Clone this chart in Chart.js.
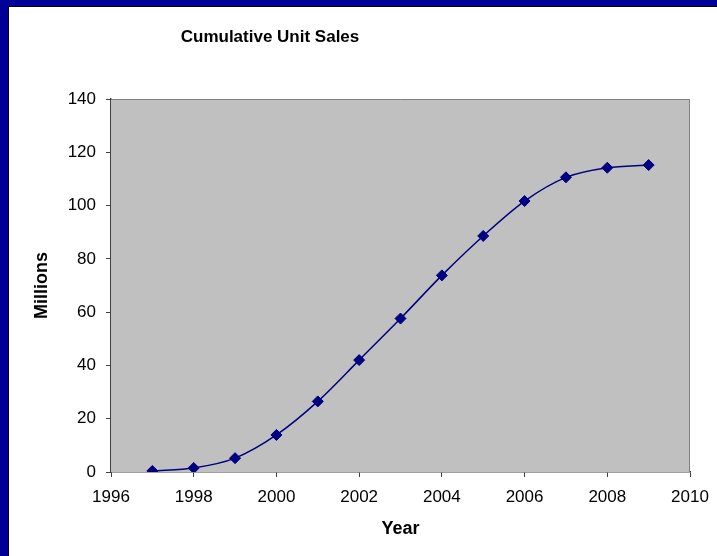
<!DOCTYPE html>
<html>
<head>
<meta charset="utf-8">
<script src="https://cdn.jsdelivr.net/npm/chart.js"></script>
<style>
  html, body { margin: 0; padding: 0; background: #fff; }
  #frame { width: 709px; height: 550px; border-left: 8px solid #000099; border-top: 6px solid #000099; }
  #inner { width: 708px; height: 549px; border-left: 1px solid #000; border-top: 1px solid #000; }
  canvas { display: block; }
</style>
</head>
<body>
<div id="frame"><div id="inner"><canvas id="myChart" width="708" height="549"></canvas></div></div>
<script>
var chartTitle = "Cumulative Unit Sales";
var years = [1997, 1998, 1999, 2000, 2001, 2002, 2003, 2004, 2005, 2006, 2007, 2008, 2009];
var unitSales = [0.4, 1.5, 5.2, 13.9, 26.5, 42, 57.6, 73.8, 88.6, 101.7, 110.6, 114.2, 115.2];
var xTitle = "Year";
var yTitle = "Millions";

// grey plot area with border, plus the off-centre title like the original
var plotBack = {
  id: 'plotBack',
  beforeDatasetsDraw: function(chart) {
    var a = chart.chartArea, ctx = chart.ctx;
    ctx.save();
    ctx.fillStyle = '#c0c0c0';
    ctx.fillRect(a.left, a.top, a.right - a.left, a.bottom - a.top);
    ctx.strokeStyle = '#808080';
    ctx.lineWidth = 1;
    ctx.beginPath();
    ctx.moveTo(a.left, a.top + 0.5);
    ctx.lineTo(a.right - 0.5, a.top + 0.5);
    ctx.lineTo(a.right - 0.5, a.bottom);
    ctx.stroke();
    ctx.restore();
  },
  afterDraw: function(chart) {
    var ctx = chart.ctx;
    ctx.save();
    ctx.font = 'bold 17px "Liberation Sans", Arial, sans-serif';
    ctx.fillStyle = '#000';
    ctx.textAlign = 'center';
    ctx.textBaseline = 'alphabetic';
    ctx.fillText(chartTitle, 261, 35);
    ctx.restore();
  }
};

var tickFont = { family: '"Liberation Sans", Arial, sans-serif', size: 17 };
var titleFont = { family: '"Liberation Sans", Arial, sans-serif', size: 18, weight: 'bold' };

var myLineChart = new Chart(document.getElementById("myChart"), {
  type: 'line',
  data: {
    datasets: [{
      label: "Cumulative Unit Sales",
      data: years.map(function(y, i) { return { x: y, y: unitSales[i] }; }),
      borderColor: "#000080",
      backgroundColor: "#000080",
      borderWidth: 1.5,
      tension: 0.3,
      fill: false,
      pointStyle: 'rectRot',
      pointRadius: 5.5,
      pointBorderWidth: 1,
      pointBorderColor: "#000080",
      pointBackgroundColor: "#000080"
    }]
  },
  options: {
    responsive: false,
    animation: false,
    layout: { padding: { left: 18, right: 27, top: 92, bottom: 12 } },
    plugins: { legend: { display: false }, title: { display: false }, tooltip: { enabled: false } },
    scales: {
      x: {
        type: 'linear',
        min: 1996, max: 2010,
        afterFit: function(s) { s.height = 72; s.paddingLeft = 0; s.paddingRight = 0; },
        border: { color: '#404040', width: 1.5 },
        grid: { drawOnChartArea: false, drawTicks: true, tickLength: 5, tickColor: '#404040' },
        ticks: { stepSize: 2, color: '#000', font: tickFont, padding: 10, maxRotation: 0,
                 callback: function(v) { return String(v); } },
        title: { display: true, text: xTitle, color: '#000', font: titleFont }
      },
      y: {
        min: 0, max: 140,
        afterFit: function(s) { s.width = 84; s.paddingTop = 0; s.paddingBottom = 0; },
        border: { color: '#404040', width: 1.5 },
        grid: { drawOnChartArea: false, drawTicks: true, tickLength: 5, tickColor: '#404040' },
        ticks: { stepSize: 20, color: '#000', font: tickFont, padding: 10 },
        title: { display: true, text: yTitle, color: '#000', font: titleFont }
      }
    }
  },
  plugins: [plotBack]
});
</script>
</body>
</html>
